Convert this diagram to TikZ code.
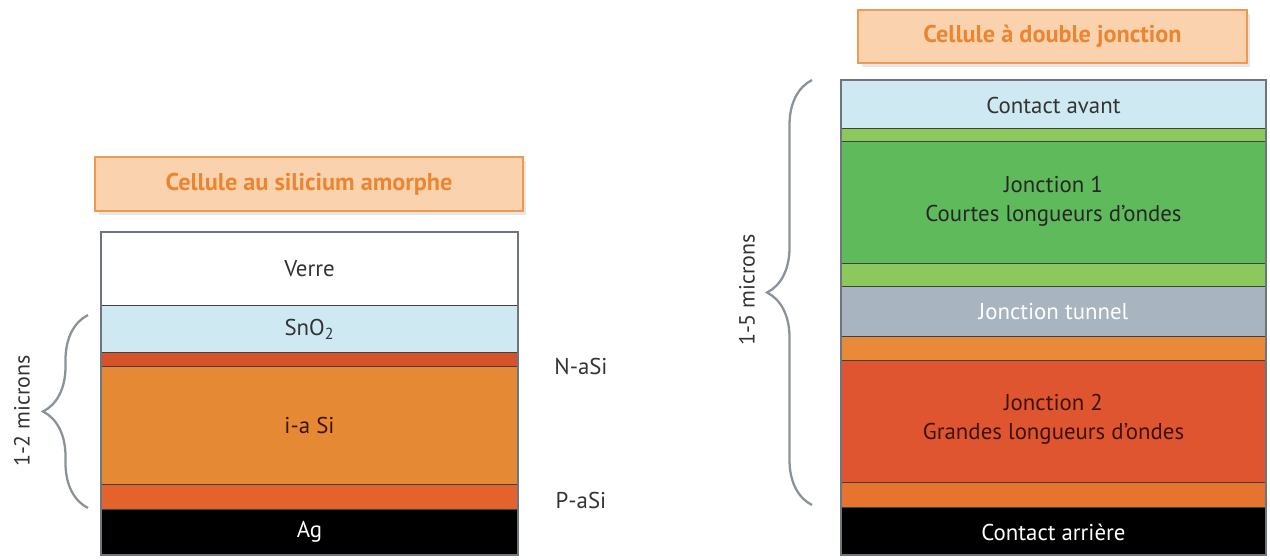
\documentclass[tikz,border=0pt]{standalone}
\usepackage{fontspec}
\setmainfont{PT Sans}
\usetikzlibrary{decorations.pathreplacing,shadows}

\definecolor{titlefill}{HTML}{FBD2AE}
\definecolor{titleline}{HTML}{EE9A55}
\definecolor{titletext}{HTML}{EA8632}
\definecolor{sky}{HTML}{CFE9F2}
\definecolor{nasi}{HTML}{D4532A}
\definecolor{ias}{HTML}{E68934}
\definecolor{pasi}{HTML}{E4632C}
\definecolor{greenthin}{HTML}{8BC95C}
\definecolor{greenj}{HTML}{5FBA5C}
\definecolor{tunnel}{HTML}{A8B4BF}
\definecolor{orangeup}{HTML}{E98A38}
\definecolor{redj}{HTML}{DF5530}
\definecolor{orangelow}{HTML}{E6742F}
\definecolor{bracegray}{HTML}{8A929A}
\definecolor{framegray}{HTML}{6E757C}
\definecolor{darkbrown}{HTML}{3C1206}

\begin{document}
\begin{tikzpicture}[x=0.02cm,y=-0.02cm,
  layer/.style={draw=black!75,line width=0.5pt},
  frame/.style={draw=framegray,line width=1.2pt},
  titlebox/.style={draw=titleline,fill=titlefill,line width=1.5pt,
    text=titletext,font=\bfseries\fontsize{13.8}{16}\selectfont,
    drop shadow={shadow xshift=2pt,shadow yshift=-2pt,opacity=0.2}},
  lbl/.style={font=\fontsize{13}{16.5}\selectfont,text=black!80,align=center},
  brace/.style={decorate,decoration={brace,amplitude=0.9cm},draw=bracegray,line width=1.3pt}]
  \useasboundingbox (0,0) rectangle (1270,559);

  % cellule au silicium amorphe
  \node[titlebox,minimum width=8.56cm,minimum height=1.08cm] (titleA) at (309,184) {Cellule au silicium amorphe};
  \draw[layer,fill=white]  (101,232) rectangle (518,305);
  \draw[layer,fill=sky]    (101,305) rectangle (518,352);
  \draw[layer,fill=nasi]   (101,352) rectangle (518,366);
  \draw[layer,fill=ias]    (101,366) rectangle (518,484);
  \draw[layer,fill=pasi]   (101,484) rectangle (518,509);
  \draw[layer,fill=black]  (101,509) rectangle (518,555);
  \draw[frame] (101,232) rectangle (518,555);
  \node[lbl] (verre) at (309.5,269) {Verre};
  \node[lbl] (sno) at (309.5,329) {SnO\textsubscript{2}};
  \node[lbl,text=darkbrown] (isi) at (309.5,425) {i-a Si};
  \node[lbl,text=white] (ag) at (309.5,532) {Ag};
  \node[lbl] (naSi) at (581,366) {N-aSi};
  \node[lbl] (paSi) at (581,500) {P-aSi};

  \coordinate (lbtop) at (88,315);
  \coordinate (lbbot) at (88,508);
  \draw[brace] (lbbot) -- (lbtop);
  \node[lbl,rotate=90,font=\fontsize{12.5}{15}\selectfont] (lmic) at (22,411) {1-2 microns};

  % cellule a double jonction
  \node[titlebox,minimum width=7.78cm,minimum height=1.06cm] (titleB) at (1052.5,36.5) {Cellule à double jonction};
  \draw[layer,fill=sky]       (841,80)  rectangle (1266,128);
  \draw[layer,fill=greenthin] (841,128) rectangle (1266,141);
  \draw[layer,fill=greenj]    (841,141) rectangle (1266,263);
  \draw[layer,fill=greenthin] (841,263) rectangle (1266,286);
  \draw[layer,fill=tunnel]    (841,286) rectangle (1266,336);
  \draw[layer,fill=orangeup]  (841,336) rectangle (1266,360);
  \draw[layer,fill=redj]      (841,360) rectangle (1266,482);
  \draw[layer,fill=orangelow] (841,482) rectangle (1266,507);
  \draw[layer,fill=black]     (841,507) rectangle (1266,555);
  \draw[frame] (841,80) rectangle (1266,555);
  \node[lbl] (cavant) at (1053.5,105) {Contact avant};
  \node[lbl,text=black!85] (jA) at (1053.5,201) {Jonction 1\\Courtes longueurs d’ondes};
  \node[lbl,text=white] (tun) at (1053.5,312) {Jonction tunnel};
  \node[lbl,text=darkbrown] (jB) at (1053.5,419) {Jonction 2\\Grandes longueurs d’ondes};
  \node[lbl,text=white] (carr) at (1053.5,532) {Contact arrière};

  \coordinate (rbtop) at (812,80);
  \coordinate (rbbot) at (812,505);
  \draw[brace] (rbbot) -- (rbtop);
  \node[lbl,rotate=90,font=\fontsize{12.5}{15}\selectfont] (rmic) at (747,290) {1-5 microns};
\end{tikzpicture}
\end{document}
